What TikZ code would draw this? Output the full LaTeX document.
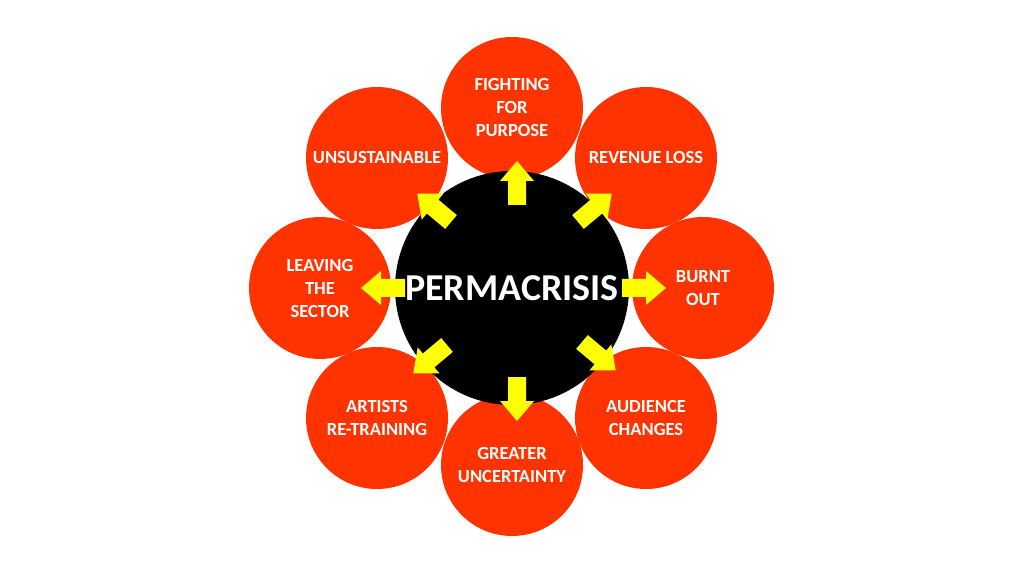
\documentclass[tikz,border=0pt]{standalone}
\usepackage{fontspec}
\setmainfont{Carlito}
\begin{document}
\begin{tikzpicture}[x=1pt,y=1pt,
 outer/.style={circle,fill={rgb,255:red,255;green,51;blue,0},minimum size=142pt,inner sep=0pt,text=white,font=\fontsize{18.5}{23}\selectfont\bfseries,align=center},
 arr/.style={fill={rgb,255:red,255;green,255;blue,0}}]
\useasboundingbox (0,0) rectangle (1024,576);
\node[outer] (t) at (512,468) {FIGHTING\\FOR\\PURPOSE};
\node[outer] (tr) at (646,418) {REVENUE LOSS};
\node[outer] (r) at (703,288) {BURNT\\OUT};
\node[outer] (br) at (646,158) {AUDIENCE\\CHANGES};
\node[outer] (b) at (512,111) {GREATER\\UNCERTAINTY};
\node[outer] (bl) at (377,158) {ARTISTS\\RE-TRAINING};
\node[outer] (l) at (320,288) {LEAVING\\THE\\SECTOR};
\node[outer] (tl) at (377,418) {UNSUSTAINABLE};
\node[circle,fill=black,minimum size=234pt,text=white,font=\fontsize{38}{44}\selectfont\bfseries] (c) at (512,288) {PERMACRISIS};
\foreach \x/\y/\a in {517/371/90, 578/354/40, 622/288/0, 582/234/-40, 517/199/-90, 447/231/220, 405/288/180, 451/354/140}{
 \fill[arr,shift={(\x,\y)},rotate=\a] (0,-9)--(24,-9)--(24,-17)--(44,0)--(24,17)--(24,9)--(0,9)--cycle;
}
\end{tikzpicture}
\end{document}
